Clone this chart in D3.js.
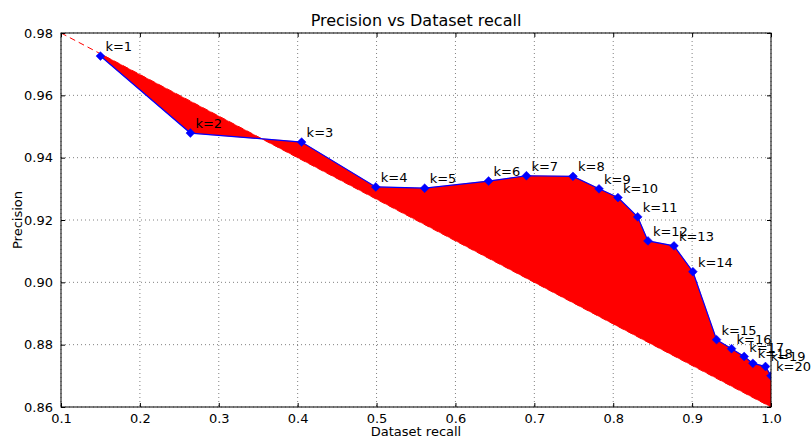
<!DOCTYPE html>
<html>
<head>
<meta charset="utf-8">
<script src="https://cdn.jsdelivr.net/npm/d3@7"></script>
<style>
  body { margin: 0; background: #fff; }
  svg text { font-family: "DejaVu Sans", sans-serif; fill: #000; }
</style>
</head>
<body>
<div id="chart"></div>
<script>
// values
let recall = [0.150, 0.264, 0.405, 0.499, 0.561, 0.642, 0.690, 0.749, 0.782, 0.806,
              0.831, 0.844, 0.877, 0.901, 0.931, 0.950, 0.966, 0.977, 0.993, 1.000];
let precision = [0.9726, 0.9479, 0.9450, 0.9306, 0.9302, 0.9325, 0.9342, 0.9340, 0.9300, 0.9272,
                 0.9210, 0.9133, 0.9117, 0.9034, 0.8816, 0.8787, 0.8762, 0.8740, 0.8730, 0.8700];
let labels = recall.map((d, i) => "k=" + (i + 1));
// straight reference line from (0.1, 0.98) to (1.0, 0.86)
let baseLine = [[0.1, 0.98], [1.0, 0.86]];
let xTicks = [0.1, 0.2, 0.3, 0.4, 0.5, 0.6, 0.7, 0.8, 0.9, 1.0];
let yTicks = [0.86, 0.88, 0.90, 0.92, 0.94, 0.96, 0.98];

let width = 811, height = 439;
let margin = {top: 33, right: 40, bottom: 32, left: 61};

let svg = d3.select("#chart").append("svg")
    .attr("width", width)
    .attr("height", height);

let xScale = d3.scaleLinear().domain([0.1, 1.0]).range([margin.left, width - margin.right]);
let yScale = d3.scaleLinear().domain([0.86, 0.98]).range([height - margin.bottom, margin.top]);

let baseAt = x => baseLine[0][1] + (x - baseLine[0][0]) * (baseLine[1][1] - baseLine[0][1]) / (baseLine[1][0] - baseLine[0][0]);

svg.append("defs").append("clipPath").attr("id", "plotclip")
    .append("rect")
    .attr("x", xScale(0.1)).attr("y", yScale(0.98))
    .attr("width", xScale(1.0) - xScale(0.1))
    .attr("height", yScale(0.86) - yScale(0.98));

// grid
svg.append("g").selectAll("line").data(xTicks).enter().append("line")
    .attr("x1", d => xScale(d)).attr("x2", d => xScale(d))
    .attr("y1", yScale(0.98)).attr("y2", yScale(0.86))
    .attr("stroke", "#000").attr("stroke-width", 0.5).attr("stroke-dasharray", "1,3");
svg.append("g").selectAll("line").data(yTicks).enter().append("line")
    .attr("y1", d => yScale(d)).attr("y2", d => yScale(d))
    .attr("x1", xScale(0.1)).attr("x2", xScale(1.0))
    .attr("stroke", "#000").attr("stroke-width", 0.5).attr("stroke-dasharray", "1,3");

let plot = svg.append("g").attr("clip-path", "url(#plotclip)");

// dashed reference line
plot.append("line")
    .attr("x1", xScale(baseLine[0][0])).attr("y1", yScale(baseLine[0][1]))
    .attr("x2", xScale(baseLine[1][0])).attr("y2", yScale(baseLine[1][1]))
    .attr("stroke", "#ff0000").attr("stroke-width", 1).attr("stroke-dasharray", "6,4");

// fill between the curve and the line
let area = d3.area()
    .x(d => xScale(d[0]))
    .y0(d => yScale(baseAt(d[0])))
    .y1(d => yScale(d[1]));
let pts = recall.map((r, i) => [r, precision[i]]);
plot.append("path").datum(pts)
    .attr("d", area)
    .attr("fill", "#ff0000").attr("stroke", "#ff0000").attr("stroke-width", 0.5);

// curve
let line = d3.line().x(d => xScale(d[0])).y(d => yScale(d[1]));
plot.append("path").datum(pts)
    .attr("d", line)
    .attr("fill", "none").attr("stroke", "#0000ff").attr("stroke-width", 1.2);

plot.selectAll("path.marker").data(pts).enter().append("path")
    .attr("class", "marker")
    .attr("d", d3.symbol().type(d3.symbolDiamond2).size(50))
    .attr("transform", d => "translate(" + xScale(d[0]) + "," + yScale(d[1]) + ")")
    .attr("fill", "#0000ff").attr("stroke", "#0000ff").attr("stroke-width", 0.5);

// point labels
svg.append("g").selectAll("text").data(pts).enter().append("text")
    .attr("x", d => xScale(d[0]) + 5)
    .attr("y", d => yScale(d[1]) - 5)
    .attr("font-size", 13)
    .text((d, i) => labels[i]);

// frame
svg.append("rect")
    .attr("x", xScale(0.1)).attr("y", yScale(0.98))
    .attr("width", xScale(1.0) - xScale(0.1))
    .attr("height", yScale(0.86) - yScale(0.98))
    .attr("fill", "none").attr("stroke", "#000").attr("stroke-width", 1);

// axes with inward ticks
let xAxis = svg.append("g")
    .attr("transform", "translate(0," + yScale(0.86) + ")")
    .call(d3.axisBottom(xScale).tickValues(xTicks).tickFormat(d3.format(".1f")).tickSizeInner(-4).tickSizeOuter(0).tickPadding(7));
let xAxisTop = svg.append("g")
    .attr("transform", "translate(0," + yScale(0.98) + ")")
    .call(d3.axisTop(xScale).tickValues(xTicks).tickFormat("").tickSizeInner(-4).tickSizeOuter(0));
let yAxis = svg.append("g")
    .attr("transform", "translate(" + xScale(0.1) + ",0)")
    .call(d3.axisLeft(yScale).tickValues(yTicks).tickFormat(d3.format(".2f")).tickSizeInner(-4).tickSizeOuter(0).tickPadding(8));
let yAxisRight = svg.append("g")
    .attr("transform", "translate(" + xScale(1.0) + ",0)")
    .call(d3.axisRight(yScale).tickValues(yTicks).tickFormat("").tickSizeInner(-4).tickSizeOuter(0));

[xAxis, xAxisTop, yAxis, yAxisRight].forEach(a => {
    a.select(".domain").remove();
    a.selectAll("text").attr("font-size", 13).attr("font-family", "DejaVu Sans, sans-serif").attr("fill", "#000");
});

// titles
svg.append("text")
    .attr("x", (xScale(0.1) + xScale(1.0)) / 2).attr("y", 26)
    .attr("text-anchor", "middle").attr("font-size", 16)
    .text("Precision vs Dataset recall");
svg.append("text")
    .attr("x", (xScale(0.1) + xScale(1.0)) / 2).attr("y", 436)
    .attr("text-anchor", "middle").attr("font-size", 13)
    .text("Dataset recall");
svg.append("text")
    .attr("transform", "translate(22," + (yScale(0.92)) + ") rotate(-90)")
    .attr("text-anchor", "middle").attr("font-size", 13)
    .text("Precision");
</script>
</body>
</html>
